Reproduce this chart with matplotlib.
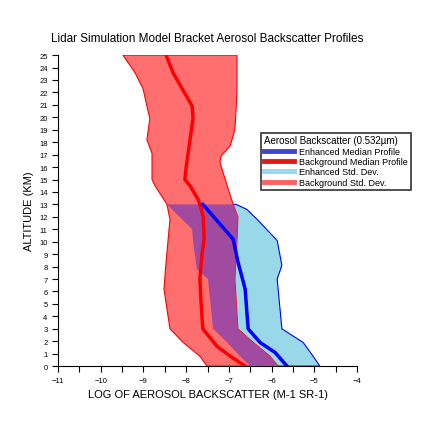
import matplotlib.pyplot as plt
from matplotlib.ticker import MultipleLocator
from matplotlib.patches import Polygon
import numpy as np

plt.rcParams["font.family"] = ["Liberation Sans", "DejaVu Sans"]

# background median profile
bg_alt = [0, 0.8, 1.6, 3, 5, 7, 9, 10.2, 12, 13, 13.4, 14.5, 15, 16, 18.2, 19.9, 20.9, 23.6, 25]
bg_med = [-6.62, -6.97, -7.28, -7.61, -7.65, -7.68, -7.63, -7.58, -7.60, -7.68, -7.72,
          -7.91, -8.03, -8.0, -7.91, -7.84, -7.86, -8.31, -8.47]
# background std band edges
bgl_alt = [0, 0.8, 1.9, 3, 6.2, 8.4, 11.8, 13, 14.5, 15, 17.1, 18.2, 19.9, 20.9, 22.3, 23.6, 25]
bgl_val = [-7.51, -7.68, -8.07, -8.38, -8.52, -8.47, -8.38, -8.45, -8.73, -8.80, -8.80,
           -8.92, -8.85, -8.92, -9.01, -9.20, -9.48]
bgr_alt = [0, 0.8, 1.9, 3, 7, 10.2, 12, 13, 14.5, 16.4, 16.9, 17.7, 19, 22, 25]
bgr_val = [-5.85, -6.04, -6.43, -6.79, -6.86, -6.81, -6.79, -6.90, -7.04, -7.21, -7.18,
           -6.97, -6.86, -6.81, -6.81]
# enhanced median profile
en_alt = [0, 1.1, 1.9, 3, 6.2, 8.4, 10.2, 13]
en_med = [-5.64, -5.92, -6.27, -6.55, -6.62, -6.79, -6.90, -7.61]
# enhanced std band edges
enl_alt = [0, 0.8, 1.9, 3, 7, 7.8, 10.1, 11, 13]
enl_val = [-6.50, -6.74, -7.04, -7.37, -7.49, -7.75, -7.84, -7.86, -8.45]
enr_alt = [0, 0.8, 1.9, 3, 7, 8.1, 10.1, 11.8, 12.6, 13]
enr_val = [-4.87, -5.03, -5.26, -5.76, -5.87, -5.76, -5.87, -6.34, -6.58, -6.83]

fig = plt.figure(figsize=(4.43, 4.35), dpi=100)
ax = fig.add_axes([0.131, 0.156, 0.675, 0.715])

def band(lx, ly, rx, ry):
    return np.column_stack([list(lx) + list(rx)[::-1], list(ly) + list(ry)[::-1]])

en_poly = band(enl_val, enl_alt, enr_val, enr_alt)
bg_poly = band(bgl_val, bgl_alt, bgr_val, bgr_alt)

ax.add_patch(Polygon(en_poly, closed=True, facecolor='#99d8e8', edgecolor='#0000ff', lw=0.8, zorder=1))
bgp = Polygon(bg_poly, closed=True, facecolor='#ff6f6f', edgecolor='#ff0000', lw=0.8, zorder=2)
ax.add_patch(bgp)
ov = Polygon(en_poly, closed=True, facecolor='#a04ba0', edgecolor='none', zorder=3)
ax.add_patch(ov)
ov.set_clip_path(bgp)

ax.plot(bg_med, bg_alt, color='#ff0000', lw=2.5, zorder=4)
ax.plot(en_med, en_alt, color='#0000ff', lw=2.5, zorder=5)

# legend proxies
ax.plot([], [], color='#3c46d0', lw=3.5, label='Enhanced Median Profile')
ax.plot([], [], color='#e01818', lw=3.5, label='Background Median Profile')
ax.plot([], [], color='#99d8e8', lw=3.5, label='Enhanced Std. Dev.')
ax.plot([], [], color='#ff6060', lw=3.5, label='Background Std. Dev.')
handles, labels = ax.get_legend_handles_labels()
leg = ax.legend(handles[-4:], labels[-4:], title='Aerosol Backscatter (0.532\u00b5m)',
                loc='upper left', bbox_to_anchor=(0.665, 0.765), fontsize=6.5,
                title_fontsize=7, frameon=True, fancybox=False, edgecolor='black',
                handlelength=3.3, borderpad=0.3, labelspacing=0.15, handletextpad=0.6)
leg.get_frame().set_linewidth(1.2)
leg._legend_box.align = 'left'

ax.set_xlim(-11, -4)
ax.set_ylim(0, 25)
ax.xaxis.set_major_locator(MultipleLocator(1))
ax.xaxis.set_minor_locator(MultipleLocator(0.5))
ax.yaxis.set_major_locator(MultipleLocator(1))
ax.tick_params(axis='both', which='both', direction='out', labelsize=5.5, width=0.8)
ax.tick_params(which='major', length=4)
ax.tick_params(which='minor', length=4)
for s in ['top', 'right']:
    ax.spines[s].set_visible(False)

ax.set_xlabel('LOG OF AEROSOL BACKSCATTER (M-1 SR-1)', fontsize=8)
ax.set_ylabel('ALTITUDE (KM)', fontsize=8)
ax.set_title('Lidar Simulation Model Bracket Aerosol Backscatter Profiles', fontsize=8.5, pad=10)

fig.savefig('out.png', dpi=100)
